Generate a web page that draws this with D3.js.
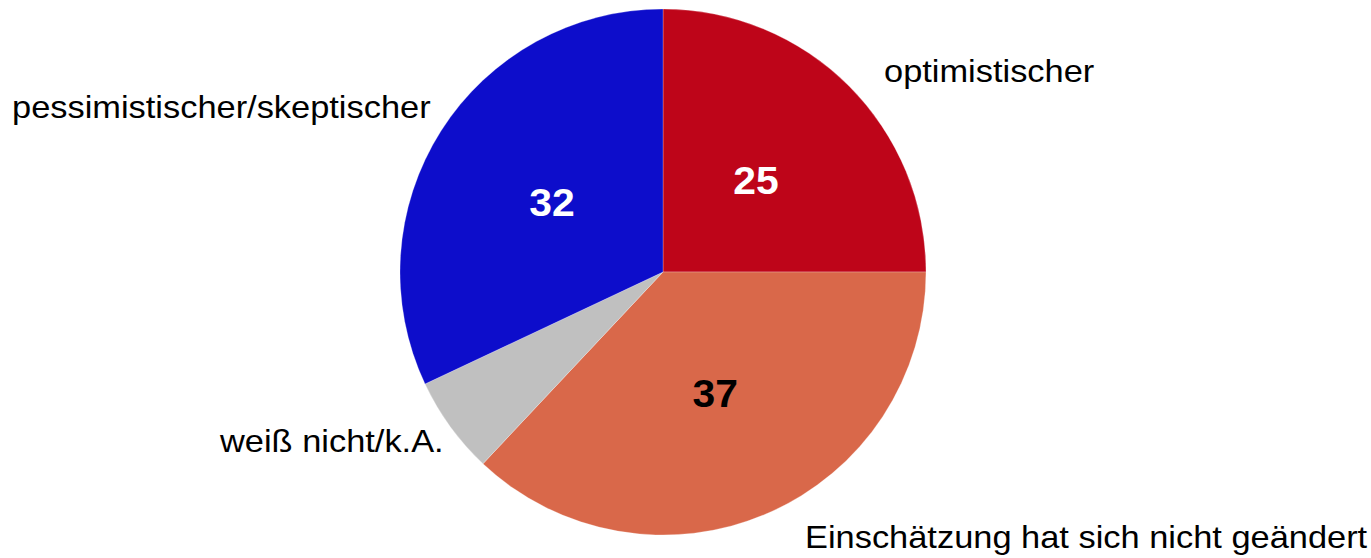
<!DOCTYPE html>
<html>
<head>
<meta charset="utf-8">
<script src="https://cdn.jsdelivr.net/npm/d3@7"></script>
<style>
  html, body { margin: 0; padding: 0; background: #fff; }
  svg { display: block; }
</style>
</head>
<body>
<svg id="chart" width="1371" height="558"></svg>
<script>
// Slices, clockwise from 12 o'clock
const categories = ["optimistischer", "Einschätzung hat sich nicht geändert", "weiß nicht/k.A.", "pessimistischer/skeptischer"];
const values = [25, 37, 6, 32];
const colors = ["#BE0519", "#D9684A", "#C0C0C0", "#0D0DCB"];
const valueLabels = ["25", "37", "", "32"];
const valueLabelColors = ["#ffffff", "#000000", "#000000", "#ffffff"];

const width = 1371, height = 558;
const cx = 663, cy = 272, radius = 263;
const stretchX = 1.075; // text is set slightly wide

const svg = d3.select("#chart");
const g = svg.append("g").attr("transform", `translate(${cx},${cy})`);

const data = categories.map((c, i) => ({ category: c, value: values[i], color: colors[i],
  label: valueLabels[i], labelColor: valueLabelColors[i] }));

const pie = d3.pie().value(d => d.value).sort(null);
const arc = d3.arc().innerRadius(0).outerRadius(radius);
const arcs = pie(data);

g.selectAll("path.slice")
  .data(arcs)
  .join("path")
  .attr("class", "slice")
  .attr("d", arc)
  .attr("fill", d => d.data.color)
  .attr("stroke", "#ffffff")
  .attr("stroke-opacity", 0.25)
  .attr("stroke-width", 1);

// value labels at the slice centroids
g.selectAll("text.value")
  .data(arcs.filter(d => d.data.label))
  .join("text")
  .attr("class", "value")
  .attr("transform", d => { const [x, y] = arc.centroid(d); return `translate(${x},${y + 1}) scale(${stretchX},1)`; })
  .attr("text-anchor", "middle")
  .attr("dy", "0.36em")
  .attr("font-family", "Liberation Sans, Arial, sans-serif")
  .attr("font-weight", "bold")
  .attr("font-size", 38)
  .attr("fill", d => d.data.labelColor)
  .text(d => d.data.label);

// category labels outside the pie
const labelPlacement = [
  { x: 884, y: 82 },
  { x: 805, y: 548 },
  { x: 220, y: 452 },
  { x: 12, y: 118 }
];

svg.selectAll("text.cat")
  .data(data)
  .join("text")
  .attr("class", "cat")
  .attr("transform", (d, i) => `translate(${labelPlacement[i].x},${labelPlacement[i].y}) scale(${stretchX},1)`)
  .attr("text-anchor", "start")
  .attr("font-family", "Liberation Sans, Arial, sans-serif")
  .attr("font-size", 32)
  .attr("fill", "#000")
  .text(d => d.category);
</script>
</body>
</html>
